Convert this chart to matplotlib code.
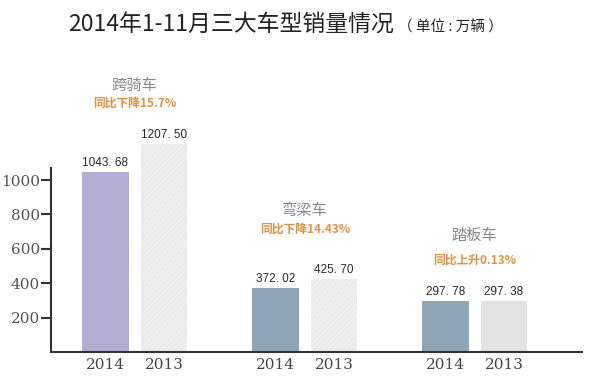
import matplotlib
matplotlib.use("Agg")
import matplotlib.pyplot as plt
import numpy as np

plt.rcParams['font.family'] = ['Noto Sans CJK SC', 'DejaVu Sans']
plt.rcParams['hatch.linewidth'] = 0.4

title = "2014年1-11月三大车型销量情况"
unit = "（ 单位 : 万辆 ）"
categories = ["跨骑车", "弯梁车", "踏板车"]
changes = ["同比下降15.7%", "同比下降14.43%", "同比上升0.13%"]
years = ["2014", "2013"]
values_2014 = [1043.68, 372.02, 297.78]
values_2013 = [1207.50, 425.70, 297.38]
value_labels_2014 = ["1043. 68", "372. 02", "297. 78"]
value_labels_2013 = ["1207. 50", "425. 70", "297. 38"]
yticks = [200, 400, 600, 800, 1000]

W, H = 605, 383
fig = plt.figure(figsize=(W / 100, H / 100), dpi=100)
ax_l, ax_r, ax_b, ax_t = 51, 582, 352, 20
ax = fig.add_axes([ax_l / W, (H - ax_b) / H, (ax_r - ax_l) / W, (ax_b - ax_t) / H])
scale = 0.172  # px per unit
ax.set_ylim(0, (ax_b - ax_t) / scale)

unit_px = 58.5
x0 = 105.5
ax.set_xlim((ax_l - x0) / unit_px, (ax_r - x0) / unit_px)

gap = 2.906
c14 = ["#b4aed5", "#8fa6b8", "#8fa6b8"]
for i in range(3):
    xa = i * gap
    xb = i * gap + 1
    ax.bar(xa, values_2014[i], width=0.8, color=c14[i], linewidth=0)
    if i < 2:
        ax.bar(xb, values_2013[i], width=0.8, color="#ebebeb", edgecolor="#f6f6f6",
               hatch="//////", linewidth=0)
    else:
        ax.bar(xb, values_2013[i], width=0.8, color="#e3e3e3", linewidth=0)
    ax.text(xa, values_2014[i] + 18, value_labels_2014[i], ha="center", va="bottom",
            fontsize=8.5, family=["Liberation Sans"], color="#2a2a2a")
    ax.text(xb, values_2013[i] + 18, value_labels_2013[i], ha="center", va="bottom",
            fontsize=8.5, family=["Liberation Sans"], color="#2a2a2a")
    for xx, yr in zip([xa, xb], years):
        ax.text(xx, -32, yr, ha="center", va="top", fontsize=11,
                family=["DejaVu Serif"], color="#444444")

# category annotations (pixel positions)
cat_y = [85, 210, 235]
chg_y = [103, 229, 260]
for i in range(3):
    xc = i * gap + 0.5
    ax.text(xc, (ax_b - cat_y[i]) / scale, categories[i], ha="center", va="center",
            fontsize=11, color="#8a8a8a")
    ax.text(xc, (ax_b - chg_y[i]) / scale, changes[i], ha="center", va="center",
            fontsize=8.5, color="#e0913f", fontweight="bold")

ax.spines["top"].set_visible(False)
ax.spines["right"].set_visible(False)
ax.spines["left"].set_bounds(0, (ax_b - 168) / scale)
for s in ["left", "bottom"]:
    ax.spines[s].set_color("#333333")
    ax.spines[s].set_linewidth(1.5)
ax.set_xticks([])
ax.set_yticks(yticks)
ax.set_yticklabels([str(t) for t in yticks], family=["DejaVu Serif"], fontsize=11,
                   color="#555555")
ax.tick_params(axis="y", length=7, width=1.5, color="#333333", pad=1)

fig.text(68 / W, 1 - 25 / H, title, ha="left", va="center", fontsize=16.5, color="#222222")
fig.text(398 / W, 1 - 27 / H, unit, ha="left", va="center", fontsize=10.5, color="#222222")

fig.savefig("out.png", dpi=100)
